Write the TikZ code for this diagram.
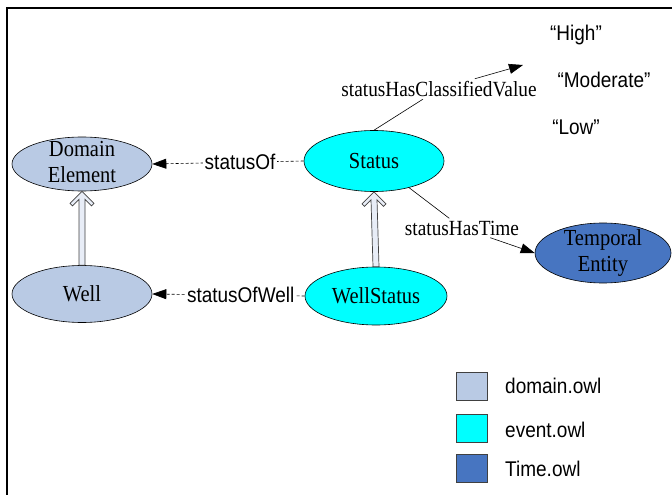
\documentclass[tikz,border=0pt]{standalone}
\usepackage{fontspec}
\setmainfont{Liberation Serif}
\newfontfamily\arialfont{Liberation Sans}
\usetikzlibrary{shapes.geometric,arrows.meta,calc}

\definecolor{domainblue}{HTML}{B9CAE4}
\definecolor{eventcyan}{HTML}{00FFFF}
\definecolor{timeblue}{HTML}{4775C1}
\definecolor{isafill}{HTML}{E8EDF7}
\definecolor{isaline}{HTML}{404040}

\tikzset{
  tall/.style={yscale=1.12, transform shape},
  cls/.style={ellipse, draw=black, line width=0.6bp, inner sep=0pt,
              minimum width=140bp, minimum height=58bp},
  clstext/.style={tall, align=center, inner sep=0pt,
                  font=\fontsize{20.5bp}{23bp}\selectfont},
  proplabel/.style={tall, fill=white, inner sep=1.5bp,
                    font=\arialfont\fontsize{19bp}{22bp}\selectfont},
  timeslabel/.style={tall, fill=white, inner sep=2bp,
                     font=\fontsize{19.3bp}{22bp}\selectfont},
  plaintext/.style={tall, inner sep=0pt,
                    font=\arialfont\fontsize{19bp}{22bp}\selectfont},
  objprop/.style={draw=black, line width=0.6bp, dash pattern=on 3bp off 2bp,
                  -{Triangle[length=14bp,width=10bp]}},
  relprop/.style={draw=black, line width=0.6bp,
                  -{Triangle[length=14bp,width=10bp]}},
  isa/.style={draw=isaline, fill=isafill, line width=0.7bp, line join=miter},
  swatch/.style={draw=isaline, line width=0.8bp, minimum width=31bp,
                 minimum height=28bp, inner sep=0pt},
}

% hollow subclass arrow: tip at #2, shaft starting at #1
\newcommand{\isaarrow}[2]{%
  \draw[isa] (#2) -- ++(-12,12) -- ++(2.5,2.5) -- ++(6.5,-6.5)
    -- ($(#1)+(-3,0)$) -- ($(#1)+(3,0)$) -- ($(#2)+(3,8)$)
    -- ++(6.5,6.5) -- ++(2.5,-2.5) -- cycle;}

\begin{document}
\begin{tikzpicture}[x=1bp,y=-1bp]
  \useasboundingbox (0,0) rectangle (672,495);

  % frame (top and left edges)
  \coordinate (fbl) at (7,496);
  \coordinate (ftl) at (7,8);
  \coordinate (ftr) at (673,8);
  \draw[line width=2bp] (fbl) -- (ftl) -- (ftr);

  % classes
  \node[cls, fill=domainblue, minimum height=54bp] (de) at (82,164) {};
  \node[clstext] (de-t) at (82,162) {Domain\\Element};
  \node[cls, fill=domainblue, minimum height=57bp] (well) at (82,294) {};
  \node[clstext] (well-t) at (82,294) {Well};
  \node[cls, fill=eventcyan, minimum height=61bp] (st) at (374,161) {};
  \node[clstext] (st-t) at (374,161) {Status};
  \node[cls, fill=eventcyan, minimum width=142bp, minimum height=58bp] (ws) at (376,296) {};
  \node[clstext] (ws-t) at (376,296) {WellStatus};
  \node[cls, fill=timeblue, minimum width=136bp, minimum height=60bp] (tt) at (603,253) {};
  \node[clstext] (tt-t) at (603,253) {Temporal\\Entity};

  % subclass arrows
  \isaarrow{well.north}{de.south}
  \isaarrow{ws.north}{st.south}

  % object properties between classes
  \draw[objprop] (st.west) -- node[proplabel, pos=0.42] (l-of) {statusOf} (de.east);
  \draw[objprop] (ws.west) -- node[proplabel, pos=0.42] (l-ofw) {statusOfWell} (well.east);

  % classified values
  \node[plaintext] (v-high) at (576,35) {“High”};
  \node[plaintext] (v-mod) at (604,80) {“Moderate”};
  \node[plaintext] (v-low) at (576,127) {“Low”};

  \node[timeslabel] (l-cv) at (439,89) {statusHasClassifiedValue};
  \coordinate (cv-end) at (523,65);
  \draw[line width=0.6bp] (st.north) -- (l-cv);
  \draw[relprop] (l-cv) -- (cv-end);

  \node[timeslabel] (l-ht) at (462,228) {statusHasTime};
  \draw[line width=0.6bp] (st) -- (l-ht);
  \draw[relprop] (l-ht) -- (tt.west);

  % legend
  \node[swatch, fill=domainblue] (k1) at (472,386) {};
  \node[plaintext, anchor=west] (k1-t) at (505,386) {domain.owl};
  \node[swatch, fill=eventcyan] (k2) at (472,428) {};
  \node[plaintext, anchor=west] (k2-t) at (505,430) {event.owl};
  \node[swatch, fill=timeblue] (k3) at (472,468) {};
  \node[plaintext, anchor=west] (k3-t) at (505,469) {Time.owl};
\end{tikzpicture}
\end{document}
